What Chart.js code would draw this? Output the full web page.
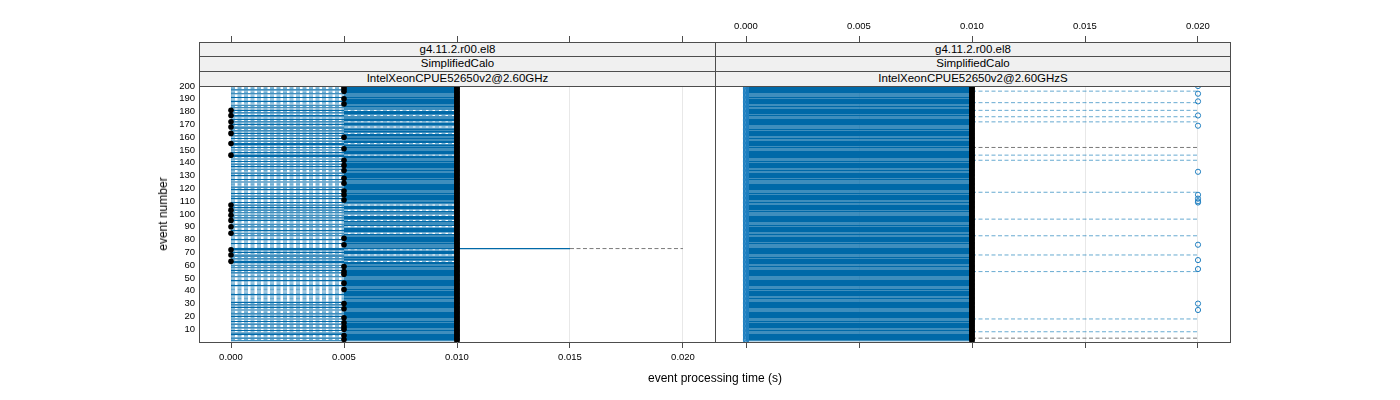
<!DOCTYPE html>
<html>
<head>
  <meta charset="utf-8">
  <title>Event processing time</title>
  <script src="https://cdn.jsdelivr.net/npm/chart.js"></script>
  <style>
    body {
      margin: 0;
      background: #fff;
      font-family: 'Liberation Sans', Arial, sans-serif;
    }
    #wrap {
      position: relative;
      width: 1400px;
      height: 400px;
    }
    canvas {
      position: absolute;
      left: 0;
      top: 0;
    }
    .strip {
      position: absolute;
      box-sizing: border-box;
      border: 1px solid #4d4d4d;
      background: #f0f0f0;
      font-size: 11.5px;
      line-height: 13px;
      text-align: center;
      color: #000;
      z-index: 2;
    }
    .axis-title {
      position: absolute;
      font-size: 12px;
      color: #000;
      white-space: nowrap;
      transform: translate(-50%, -50%);
    }
  </style>
</head>
<body>
<div id="wrap">
  <canvas id="leftPanel" width="1400" height="400"></canvas>
  <canvas id="rightPanel" width="1400" height="400"></canvas>

  <div class="strip" style="left:199px; top:42px; width:517px; height:15px;">g4.11.2.r00.el8</div>
  <div class="strip" style="left:199px; top:56px; width:517px; height:16px;">SimplifiedCalo</div>
  <div class="strip" style="left:199px; top:71px; width:517px; height:16px;">IntelXeonCPUE52650v2@2.60GHz</div>

  <div class="strip" style="left:715px; top:42px; width:516px; height:15px;">g4.11.2.r00.el8</div>
  <div class="strip" style="left:715px; top:56px; width:516px; height:16px;">SimplifiedCalo</div>
  <div class="strip" style="left:715px; top:71px; width:516px; height:16px;">IntelXeonCPUE52650v2@2.60GHzS</div>

  <div class="axis-title" style="left:715px; top:378px;">event processing time (s)</div>
  <div class="axis-title" style="left:163px; top:214px; transform:translate(-50%,-50%) rotate(-90deg);">event number</div>
</div>

<script>
  // ---- data (times in ms, one entry per event 1..200) ----
  const xTicks = [0, 0.005, 0.010, 0.015, 0.020];
  const yTicks = [10, 20, 30, 40, 50, 60, 70, 80, 90, 100, 110, 120, 130, 140, 150, 160, 170, 180, 190, 200];

  // left panel: solid part of each event line
  const leftSolidFromMs = [
    0,5,0,5,5,0,0,5,0,5,0,5,5,0,5,0,5,0,5,0,
    5,0,5,5,0,5,0,5,0,5,0,5,5,5,5,5,0,5,5,5,
    5,5,5,0,5,5,5,0,5,5,0,5,5,0,5,0,5,0,5,0,
    5,0,0,5,0,5,0,0,5,0,5,0,0,5,5,5,0,5,5,0,
    5,5,0,5,0,5,0,5,5,0,5,0,5,5,0,5,0,5,0,5,
    0,5,0,5,0,5,0,5,0,5,5,0,5,0,5,0,5,5,0,5,
    0,5,5,5,0,5,0,5,5,0,5,0,5,5,0,5,0,5,0,5,
    0,5,0,5,0,0,5,0,5,0,5,0,5,0,0,5,0,5,0,5,
    0,5,0,5,0,5,0,0,5,0,5,0,5,0,5,0,0,5,0,5,
    0,5,0,5,0,5,5,0,5,5,0,5,5,0,5,5,0,5,5,5
  ];
  const leftSolidToMs = [
    10,10,10,10,10,10,10,10,10,10,10,10,10,10,10,10,10,10,10,10,
    10,10,10,10,10,10,10,10,10,10,10,10,10,10,10,10,10,10,10,10,
    10,10,10,10,10,10,10,10,10,10,10,10,10,10,10,10,10,10,10,10,
    10,10,5,10,10,10,10,5,10,10,10,5,15,10,10,10,10,10,10,10,
    10,10,10,10,5,10,10,10,10,5,10,10,10,10,5,10,10,10,5,10,
    10,10,5,10,10,10,5,10,10,10,10,10,10,10,10,10,10,10,10,10,
    10,10,10,10,10,10,10,10,10,10,10,10,10,10,10,10,10,10,10,10,
    10,10,10,10,10,5,10,10,10,10,10,10,10,10,5,10,10,10,10,10,
    10,10,5,10,10,10,10,5,10,10,10,5,10,10,10,10,5,10,10,10,
    5,10,10,10,10,10,10,10,10,10,10,10,10,10,10,10,10,10,10,10
  ];
  // left panel: end of the dashed tail
  const leftDashToMs = [
    10,10,10,10,10,10,10,10,10,10,10,10,10,10,10,10,10,10,10,10,
    10,10,10,10,10,10,10,10,10,10,10,10,10,10,10,10,10,10,10,10,
    10,10,10,10,10,10,10,10,10,10,10,10,10,10,10,10,10,10,10,10,
    10,10,10,10,10,10,10,10,10,10,10,10,20,10,10,10,10,10,10,10,
    10,10,10,10,10,10,10,10,10,10,10,10,10,10,10,10,10,10,10,10,
    10,10,10,10,10,10,10,10,10,10,10,10,10,10,10,10,10,10,10,10,
    10,10,10,10,10,10,10,10,10,10,10,10,10,10,10,10,10,10,10,10,
    10,10,10,10,10,10,10,10,10,10,10,10,10,10,10,10,10,10,10,10,
    10,10,10,10,10,10,10,10,10,10,10,10,10,10,10,10,10,10,10,10,
    10,10,10,10,10,10,10,10,10,10,10,10,10,10,10,10,10,10,10,10
  ];
  // left panel: black marks
  const leftMarkMs = [
    10,10,10,10,10,10,10,10,10,10,10,10,10,10,10,10,10,10,10,10,
    10,10,10,10,10,10,10,10,10,10,10,10,10,10,10,10,10,10,10,10,
    10,10,10,10,10,10,10,10,10,10,10,10,10,10,10,10,10,10,10,10,
    10,10,10,10,10,10,10,10,10,10,10,10,10,10,10,10,10,10,10,10,
    10,10,10,10,10,10,10,10,10,10,10,10,10,10,10,10,10,10,10,10,
    10,10,10,10,10,10,10,10,10,10,10,10,10,10,10,10,10,10,10,10,
    10,10,10,10,10,10,10,10,10,10,10,10,10,10,10,10,10,10,10,10,
    10,10,10,10,10,10,10,10,10,10,10,10,10,10,10,10,10,10,10,10,
    10,10,10,10,10,10,10,10,10,10,10,10,10,10,10,10,10,10,10,10,
    10,10,10,10,10,10,10,10,10,10,10,10,10,10,10,10,10,10,10,10
  ];
  const leftDotsAt0 = [181, 177, 172, 168, 163, 155, 146, 107, 103, 99, 95, 90, 85, 72, 68, 63];
  const leftDotsAt5 = [200, 198, 196, 190, 186, 160, 151, 142, 138, 134, 128, 124, 118, 115, 111,
                       81, 76, 59, 55, 53, 46, 41, 30, 26, 19, 15, 12, 10, 5, 2];
  const leftGreyTails = [73];

  // right panel
  const rightSolidFromMs = [
    0,0,0,0,0,0,0,0,0,0,0,0,0,0,0,0,0,0,0,0,
    0,0,0,0,0,0,0,0,0,0,0,0,0,0,0,0,0,0,0,0,
    0,0,0,0,0,0,0,0,0,0,0,0,0,0,0,0,0,0,0,0,
    0,0,0,0,0,0,0,0,0,0,0,0,0,0,0,0,0,0,0,0,
    0,0,0,0,0,0,0,0,0,0,0,0,0,0,0,0,0,0,0,0,
    0,0,0,0,0,0,0,0,0,0,0,0,0,0,0,0,0,0,0,0,
    0,0,0,0,0,0,0,0,0,0,0,0,0,0,0,0,0,0,0,0,
    0,0,0,0,0,0,0,0,0,0,0,0,0,0,0,0,0,0,0,0,
    0,0,0,0,0,0,0,0,0,0,0,0,0,0,0,0,0,0,0,0,
    0,0,0,0,0,0,0,0,0,0,0,0,0,0,0,0,0,0,0,0
  ];
  const rightSolidToMs = [
    10,10,10,10,10,10,10,10,10,10,10,10,10,10,10,10,10,10,10,10,
    10,10,10,10,10,10,10,10,10,10,10,10,10,10,10,10,10,10,10,10,
    10,10,10,10,10,10,10,10,10,10,10,10,10,10,10,10,10,10,10,10,
    10,10,10,10,10,10,10,10,10,10,10,10,10,10,10,10,10,10,10,10,
    10,10,10,10,10,10,10,10,10,10,10,10,10,10,10,10,10,10,10,10,
    10,10,10,10,10,10,10,10,10,10,10,10,10,10,10,10,10,10,10,10,
    10,10,10,10,10,10,10,10,10,10,10,10,10,10,10,10,10,10,10,10,
    10,10,10,10,10,10,10,10,10,10,10,10,10,10,10,10,10,10,10,10,
    10,10,10,10,10,10,10,10,10,10,10,10,10,10,10,10,10,10,10,10,
    10,10,10,10,10,10,10,10,10,10,10,10,10,10,10,10,10,10,10,10
  ];
  const rightTailEvents = [196, 187, 181, 176, 172, 152, 146, 142, 117, 96, 83, 68, 55, 18, 8, 3];
  const rightTailToMs   = [20, 20, 20, 20, 20, 20, 20, 20, 20, 20, 20, 20, 20, 20, 20, 20];
  const rightGreyTails = [152, 3];
  const rightOutlierEvents = [200, 194, 188, 177, 169, 133, 115, 112, 110, 109, 76, 64, 57, 30, 25];
  const rightOutlierMs     = [20, 20, 20, 20, 20, 20, 20, 20, 20, 20, 20, 20, 20, 20, 20];

  // ---- helpers ----
  const DARK = '#0069a8';
  const DASH = 'rgba(0,114,178,0.6)';
  const GREY = '#7a7a7a';
  const AXIS = '#4d4d4d';
  const toSec = v => v / 1000;

  Chart.defaults.font.family = "'Liberation Sans', Arial, sans-serif";

  // list of [event, fromMs, toMs] -> one line dataset with gaps
  function segmentData(list) {
    const pts = [];
    list.forEach(([ev, a, b]) => {
      pts.push({ x: toSec(a), y: ev }, { x: toSec(b), y: ev }, { x: toSec(b), y: null });
    });
    return pts;
  }

  function lineSet(list, color, dash, order, width) {
    return {
      data: segmentData(list),
      showLine: true,
      borderColor: color,
      borderWidth: width || 1,
      borderDash: dash,
      pointRadius: 0,
      tension: 0,
      spanGaps: false,
      order: order
    };
  }

  const X_MIN = -0.001416, X_MAX = 0.021416;
  const Y_MIN = 0, Y_MAX = 234.4;

  function setTicks(values) {
    return axis => { axis.ticks = values.map(v => ({ value: v })); };
  }

  function makeScales(opts) {
    return {
      x: {
        type: 'linear', position: 'bottom', min: opts.xMin, max: X_MAX,
        afterBuildTicks: setTicks(xTicks),
        afterFit: s => { s.height = 58; },
        ticks: {
          display: opts.bottomLabels, color: '#000', padding: 4, maxRotation: 0,
          autoSkip: false, font: { size: 9.5 },
          callback: v => Number(v).toFixed(3)
        },
        grid: { color: '#e8e8e8', tickColor: AXIS, tickLength: 6, drawOnChartArea: true },
        border: { display: true, color: AXIS }
      },
      xTop: {
        type: 'linear', position: 'top', min: opts.xMin, max: X_MAX,
        afterBuildTicks: setTicks(xTicks),
        afterFit: s => { s.height = 42; },
        ticks: {
          display: opts.topLabels, color: '#000', padding: 4, maxRotation: 0,
          autoSkip: false, font: { size: 9.5 },
          callback: v => Number(v).toFixed(3)
        },
        grid: { tickColor: AXIS, tickLength: 6, drawOnChartArea: false },
        border: { display: true, color: AXIS }
      },
      y: {
        type: 'linear', position: 'left', min: Y_MIN, max: Y_MAX,
        afterBuildTicks: setTicks(yTicks),
        afterFit: s => { s.width = opts.yWidth; },
        ticks: { display: opts.yLabels, color: '#000', padding: 4, autoSkip: false, font: { size: 9.5 } },
        grid: { drawOnChartArea: false, drawTicks: false },
        border: { display: true, color: AXIS }
      },
      yRight: {
        type: 'linear', position: 'right', min: Y_MIN, max: Y_MAX,
        afterFit: s => { s.width = 0; },
        ticks: { display: false },
        grid: { drawOnChartArea: false, drawTicks: false },
        border: { display: true, color: AXIS }
      }
    };
  }

  function baseOptions(padding, scales) {
    return {
      responsive: false,
      devicePixelRatio: 1,
      animation: false,
      events: [],
      layout: { padding: padding, autoPadding: false },
      plugins: { legend: { display: false }, tooltip: { enabled: false } },
      scales: scales
    };
  }

  // ---- left panel ----
  const leftSolid = [], leftDash = [], leftGrey = [], leftDots = [];
  leftSolidFromMs.forEach((from, i) => {
    const ev = i + 1;
    const to = leftSolidToMs[i];
    leftSolid.push([ev, from, to]);
    if (from > 0) leftDash.push([ev, 0, from]);
    if (leftDashToMs[i] > to) {
      (leftGreyTails.includes(ev) ? leftGrey : leftDash).push([ev, to, leftDashToMs[i]]);
    }
    leftDots.push({ x: toSec(leftMarkMs[i]), y: ev });
  });
  leftDotsAt0.forEach(ev => leftDots.push({ x: 0, y: ev }));
  leftDotsAt5.forEach(ev => leftDots.push({ x: 0.005, y: ev }));

  new Chart(document.getElementById('leftPanel'), {
    type: 'scatter',
    data: {
      datasets: [
        {
          data: leftDots, pointRadius: 2.8, pointBackgroundColor: '#000',
          pointBorderWidth: 0, showLine: false, order: 0
        },
        lineSet(leftGrey, GREY, [4, 2.5], 1),
        lineSet(leftDash, DASH, [4, 2.5], 2),
        lineSet(leftSolid, DARK, [], 3, 1.15)
      ]
    },
    options: baseOptions(
      { left: 155, right: 685, top: 0, bottom: 0 },
      makeScales({ xMin: X_MIN, bottomLabels: true, topLabels: false, yLabels: true, yWidth: 44 })
    )
  });

  // ---- right panel ----
  const rightSolid = [], rightDash = [], rightGrey = [], rightOpen = [], rightDots = [];
  rightSolidFromMs.forEach((from, i) => {
    const ev = i + 1;
    rightSolid.push([ev, from, rightSolidToMs[i]]);
    rightOpen.push({ x: toSec(from), y: ev });
    rightDots.push({ x: toSec(rightSolidToMs[i]), y: ev });
  });
  rightTailEvents.forEach((ev, k) => {
    const seg = [ev, rightSolidToMs[ev - 1], rightTailToMs[k]];
    (rightGreyTails.includes(ev) ? rightGrey : rightDash).push(seg);
  });
  rightOutlierEvents.forEach((ev, k) => rightOpen.push({ x: toSec(rightOutlierMs[k]), y: ev }));

  new Chart(document.getElementById('rightPanel'), {
    type: 'scatter',
    data: {
      datasets: [
        {
          data: rightDots, pointRadius: 2.8, pointBackgroundColor: '#000',
          pointBorderWidth: 0, showLine: false, order: 0
        },
        {
          data: rightOpen, pointRadius: 2.6, pointBackgroundColor: 'rgba(0,0,0,0)',
          pointBorderColor: '#1f7fc0', pointBorderWidth: 1, showLine: false, order: 1
        },
        lineSet(rightGrey, GREY, [4, 2.5], 2),
        lineSet(rightDash, DASH, [4, 2.5], 3),
        lineSet(rightSolid, DARK, [], 4, 1.15)
      ]
    },
    options: baseOptions(
      { left: 715, right: 170, top: 0, bottom: 0 },
      makeScales({ xMin: -0.001372, bottomLabels: false, topLabels: true, yLabels: false, yWidth: 0 })
    )
  });
</script>
</body>
</html>
